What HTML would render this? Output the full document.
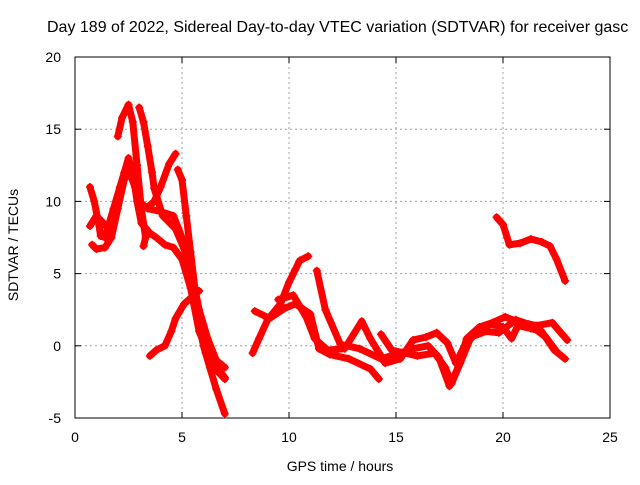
<!DOCTYPE html>
<html><head><meta charset="utf-8"><style>
body{margin:0;background:#fff;width:640px;height:480px;overflow:hidden}
svg text{font-family:"Liberation Sans",sans-serif;font-size:14px;fill:#000}
</style></head><body>
<svg id="chart" width="640" height="480" viewBox="0 0 640 480"></svg>
<script>
const xTicks=[0,5,10,15,20,25];
const yTicks=[-5,0,5,10,15,20];
const arcTop1=[[2.0,14.5],[2.2,15.8],[2.5,16.7],[2.7,15.5],[2.9,12.5],[3.1,9.5],[3.3,7.5],[3.2,6.9]];
const arcTop2=[[3.0,16.5],[3.2,15.5],[3.4,13.8],[3.6,12],[3.7,10.9],[4.1,9.0],[4.7,8.1],[5.1,6.7],[5.4,5],[5.7,2.5],[6.0,0],[6.3,-1.5],[6.6,-3],[7.0,-4.7]];
const arcLoop1=[[0.7,11],[0.9,10],[1.1,8.5],[1.2,7.6],[1.4,7.5],[1.6,8.5],[1.8,9.5],[2.1,11],[2.3,12],[2.5,13],[2.7,12],[2.9,10],[3.1,8.5],[3.5,7.8],[3.8,7.5],[4.2,7],[4.6,6.8],[5.0,6],[5.4,4],[5.8,1],[6.2,-0.5],[6.6,-1.5],[7.0,-2.2]];
const arcLoop2=[[0.8,7],[1.0,6.7],[1.4,6.8],[1.7,7.5],[2.0,9.5],[2.3,11.5],[2.5,12.2],[2.8,11],[3.0,10],[3.4,9.5],[4.0,9.3],[4.6,9],[5.0,7.5],[5.4,5.5],[5.8,2.5],[6.2,0.5],[6.6,-1],[7.0,-1.5]];
const arcLeft3=[[0.7,8.3],[1.0,9],[1.2,8.7],[1.5,8.2]];
const arcBranch=[[4.7,13.3],[4.4,12.6],[4.0,11],[3.7,10],[3.4,9.6]];
const arcNear5=[[4.8,12.2],[5.0,11.5],[5.2,9],[5.4,6.5],[5.6,4],[5.8,1.5],[6.1,-0.5],[6.5,-1.5],[7.0,-2.3]];
const arcRise=[[3.5,-0.7],[3.8,-0.3],[4.2,0],[4.5,1],[4.7,1.9],[5.1,2.9],[5.4,3.3],[5.8,3.8]];
const arcMid1=[[8.3,-0.5],[8.6,0.5],[9.0,1.8],[9.6,2.9],[10.0,4.4],[10.3,5.3],[10.5,5.9],[10.9,6.2]];
const arcMid2=[[8.4,2.4],[9.1,1.9],[9.8,2.6],[10.3,2.9],[11.0,2.2],[11.4,-0.2],[11.9,-0.6],[12.8,-0.9],[13.8,-1.6],[14.2,-2.3]];
const arcMid3=[[11.3,5.2],[11.7,2.5],[12.4,0.1],[13.3,-0.2],[14.3,-0.9],[15.0,-0.6],[15.8,-0.2],[16.5,0],[17.0,-0.8],[17.5,-2.8],[17.9,-1.5],[18.3,0.5],[18.9,1.3],[19.5,1.6],[20.1,2.0],[20.8,1.6],[21.6,1.4],[22.3,1.6],[23.0,0.4]];
const arcMid4=[[9.5,3.2],[10.2,3.5],[10.8,2.0],[11.2,0.5],[11.8,-0.3],[12.6,-0.2],[13.4,1.7],[13.8,0.5],[14.5,-1.2],[15.2,-0.9],[15.8,0.4],[16.4,0.6],[16.9,0.9],[17.4,0.2],[17.8,-1.2],[18.2,0],[18.8,1.0],[19.4,1.5],[20.0,1.3],[20.4,0.5],[20.7,1.4],[21.3,1.2],[21.8,1.0],[22.4,-0.3],[22.9,-0.9]];
const arcMid5=[[14.3,0.8],[14.8,-0.3],[15.4,-0.5],[16.0,-0.7],[16.8,-0.5],[17.3,-1.5],[17.6,-2.6],[18.0,-1.2],[18.5,0.6],[19.2,1.0],[19.8,0.9],[20.6,1.8],[21.2,1.5],[22.0,0.6],[22.5,-0.4]];
const arcRight=[[19.7,8.9],[20.0,8.4],[20.3,7.0],[20.8,7.1],[21.3,7.4],[21.8,7.2],[22.2,6.9],[22.5,6.0],[22.9,4.5]];
const series=[arcTop1,arcTop2,arcLoop1,arcLoop2,arcLeft3,arcBranch,arcNear5,arcRise,arcMid1,arcMid2,arcMid3,arcMid4,arcMid5,arcRight];

const L=75,R=610,T=57,B=418;
const xs=v=>L+(v-0)/(25-0)*(R-L);
const ys=v=>B-(v+5)/(20+5)*(B-T);
const svg=document.getElementById('chart');
const NS='http://www.w3.org/2000/svg';
function mk(t,a){const e=document.createElementNS(NS,t);for(const k in a)e.setAttribute(k,a[k]);svg.appendChild(e);return e;}

const title=mk('text',{x:47,y:32,style:'font-size:16px'});
title.textContent='Day 189 of 2022, Sidereal Day-to-day VTEC variation (SDTVAR) for receiver gasc';



xTicks.forEach(t=>{
  const x=xs(t);
  if(t>0&&t<25){const g=mk('line',{x1:x,y1:T,x2:x,y2:B,stroke:'#a0a0a0','stroke-dasharray':'2,3'});
  
  }
  mk('line',{x1:x,y1:B,x2:x,y2:B-6,stroke:'#000'});
  mk('line',{x1:x,y1:T,x2:x,y2:T+6,stroke:'#000'});
  const tx=mk('text',{x:x,y:B+24,'text-anchor':'middle'});tx.textContent=t;
  
  
});
yTicks.forEach(t=>{
  const y=ys(t);
  if(t>-5&&t<20){const g=mk('line',{x1:L,y1:y,x2:R,y2:y,stroke:'#a0a0a0','stroke-dasharray':'2,3'});
  
  }
  mk('line',{x1:L,y1:y,x2:L+6,y2:y,stroke:'#000'});
  mk('line',{x1:R,y1:y,x2:R-6,y2:y,stroke:'#000'});
  const tx=mk('text',{x:L-14,y:y+5,'text-anchor':'end'});tx.textContent=t;
  
  
});
const frame=mk('rect',{x:L,y:T,width:R-L,height:B-T,fill:'none',stroke:'#000'});



series.forEach(s=>{
  const p=mk('polyline',{points:s.map(d=>xs(d[0])+','+ys(d[1])).join(' '),fill:'none',stroke:'#ff0000','stroke-width':7,'stroke-linejoin':'round','stroke-linecap':'round'});
  
  
  s.forEach(d=>{
    const m=mk('path',{d:`M${xs(d[0])-4},${ys(d[1])}h8M${xs(d[0])},${ys(d[1])-4}v8`,stroke:'#ff0000','stroke-width':1.5});
    
    
  });
});

const xl=mk('text',{x:340,y:471,'text-anchor':'middle'});xl.textContent='GPS time / hours';


const yl=mk('text',{x:18,y:245,'text-anchor':'middle',transform:'rotate(-90 18 245)'});yl.textContent='SDTVAR / TECUs';


</script>
</body></html>
